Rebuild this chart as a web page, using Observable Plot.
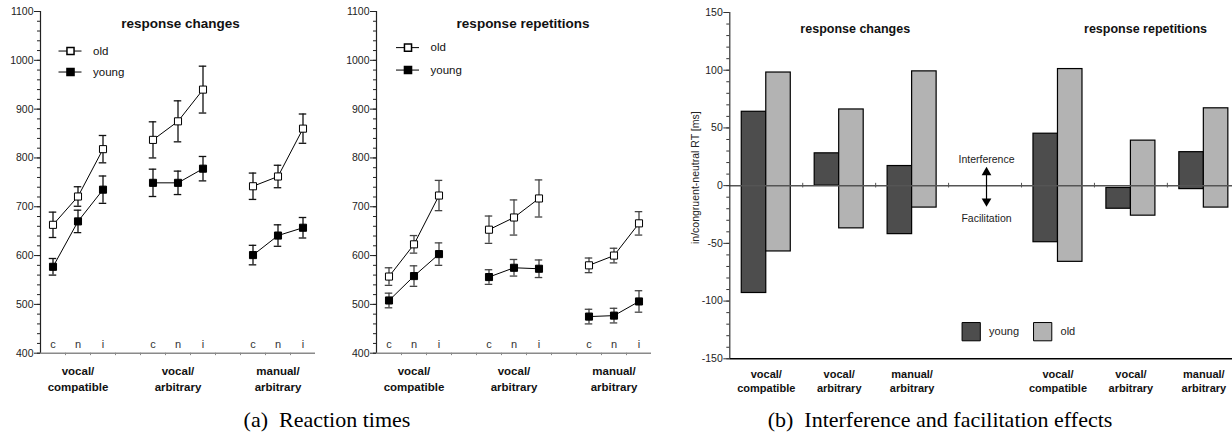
<!DOCTYPE html>
<html>
<head>
<meta charset="utf-8">
<script src="https://cdn.jsdelivr.net/npm/d3@7"></script>
<script src="https://cdn.jsdelivr.net/npm/@observablehq/plot@0.6"></script>
<style>
  html, body { margin: 0; padding: 0; background: #fff; }
  #root { position: relative; width: 1232px; height: 434px; overflow: hidden; font-family: "Liberation Sans", Arial, sans-serif; }
  .panel { position: absolute; top: 0; }
  .panel svg { overflow: visible; }
  .cap { position: absolute; font-family: "Liberation Serif", "Times New Roman", serif; font-size: 22px; line-height: 22px; text-align: center; color: #000; white-space: pre; }
</style>
</head>
<body>
<div id="root">
  <div class="panel" id="p1" style="left:0px"></div>
  <div class="panel" id="p2" style="left:336px"></div>
  <div class="panel" id="p3" style="left:640px"></div>
  <div class="cap" id="capA" style="left:177px; width:300px; top:409px;">(a)  Reaction times</div>
  <div class="cap" id="capB" style="left:740px; width:400px; top:409px;">(b)  Interference and facilitation effects</div>
</div>
<script>
// ---------- data ----------
const conditions = ["c", "n", "i"];
const tasks = ["vocal/\ncompatible", "vocal/\narbitrary", "manual/\narbitrary"];
const ageGroups = ["old", "young"];
const panelTitles = ["response changes", "response repetitions"];

// reaction times (ms), order: task x condition (c, n, i)
const changesOld      = [663, 721, 818,  837, 875, 940,  742, 762, 860];
const changesOldErr   = [ 26,  20,  28,   37,  42,  48,   27,  23,  30];
const changesYoung    = [577, 670, 735,  749, 749, 778,  601, 641, 657];
const changesYoungErr = [ 17,  23,  28,   28,  24,  25,   20,  22,  21];

const repsOld         = [557, 623, 723,  653, 678, 717,  580, 600, 666];
const repsOldErr      = [ 18,  18,  31,   28,  36,  38,   15,  15,  24];
const repsYoung       = [508, 558, 603,  556, 575, 573,  475, 477, 506];
const repsYoungErr    = [ 15,  21,  23,   15,  17,  18,   15,  15,  22];

// effects (ms): interference (i - n) and facilitation (c - n)
// order: changes (3 tasks), repetitions (3 tasks)
const interferenceYoung = [64, 28, 17,  45, -2, 29];
const facilitationYoung = [-93, 0, -42, -49, -20, -3];
const interferenceOld   = [98, 66, 99, 101, 39, 67];
const facilitationOld   = [-57, -37, -19, -66, -26, -19];

const rtTicks = d3.range(400, 1101, 100);
const effTicks = d3.range(-150, 151, 50);

const FONT = "Liberation Sans, Arial, Helvetica, sans-serif";

// ---------- reaction-time panel ----------
function rtPanel(opts) {
  const {title, oldV, oldE, youngV, youngE, errColor, titleX, legendX, legendY} = opts;
  const rows = [];
  [["old", oldV, oldE], ["young", youngV, youngE]].forEach(([s, v, e]) => {
    v.forEach((y, k) => {
      const g = Math.floor(k / 3), c = k % 3;
      rows.push({s, g, c, x: g * 4 + c + 0.5, y, e: e[k], line: s + g});
    });
  });
  const letters = [];
  tasks.forEach((t, g) => conditions.forEach((c, ci) => letters.push({x: g * 4 + ci + 0.5, text: c})));
  const legend = ageGroups.map((s, i) => ({s, y: legendY[i]}));
  const capW = 0.15;
  return Plot.plot({
    width: 330, height: 400,
    marginLeft: 40, marginRight: 15, marginTop: 11, marginBottom: 47.3,
    x: {domain: [0, 11], axis: null},
    y: {domain: [400, 1100], axis: null},
    style: {fontFamily: FONT, fontSize: "10.5px", color: "#111", background: "transparent", overflow: "visible"},
    marks: [
      Plot.ruleY([400], {stroke: "#8a8a8a", strokeWidth: 1.6}),
      Plot.ruleX(d3.range(1, 11), {y1: 400, y2: 395, stroke: "#8a8a8a"}),
      Plot.ruleX([0], {y1: 400, y2: 1100, stroke: "#222", strokeWidth: 1.2}),
      Plot.axisY({ticks: d3.range(400, 1101, 20), tickSize: 3, tickFormat: () => "", label: null, stroke: "#222"}),
      Plot.axisY({ticks: rtTicks, tickSize: 6, tickPadding: 1, tickFormat: d => String(d), label: null, stroke: "#222", fill: "#222"}),
      Plot.text(letters, {x: "x", y: 400, dy: -9, text: "text", fill: "#333", fontSize: 11}),
      Plot.text(tasks, {x: (d, i) => i * 4 + 1.5, y: 400, dy: 25, text: d => d, fontWeight: "bold", fontSize: 11.5, lineHeight: 1.38, fill: "#111"}),
      Plot.text([title], {x: titleX, y: 1076, text: d => d, fontWeight: "bold", fontSize: 13.5, fill: "#111"}),
      // error bars
      Plot.ruleX(rows, {x: "x", y1: d => d.y - d.e, y2: d => d.y + d.e, stroke: errColor, strokeWidth: 1.3}),
      Plot.ruleY(rows, {y: d => d.y + d.e, x1: d => d.x - capW, x2: d => d.x + capW, stroke: errColor, strokeWidth: 1.3}),
      Plot.ruleY(rows, {y: d => d.y - d.e, x1: d => d.x - capW, x2: d => d.x + capW, stroke: errColor, strokeWidth: 1.3}),
      // lines and markers
      Plot.line(rows, {x: "x", y: "y", z: "line", stroke: "#000", strokeWidth: 1}),
      Plot.dot(rows.filter(d => d.s === "old"), {x: "x", y: "y", symbol: "square", r: 4, fill: "white", stroke: "black", strokeWidth: 1}),
      Plot.dot(rows.filter(d => d.s === "young"), {x: "x", y: "y", symbol: "square", r: 4, fill: "black", stroke: "black", strokeWidth: 1}),
      // legend
      Plot.ruleY(legend, {y: "y", x1: legendX - 0.46, x2: legendX + 0.46, stroke: "#000"}),
      Plot.dot(legend.filter(d => d.s === "old"), {x: legendX, y: "y", symbol: "square", r: 4, fill: "white", stroke: "black"}),
      Plot.dot(legend.filter(d => d.s === "young"), {x: legendX, y: "y", symbol: "square", r: 4, fill: "black", stroke: "black"}),
      Plot.text(legend, {x: legendX + 0.9, y: "y", text: "s", textAnchor: "start", fontSize: 11.5, fill: "#111"})
    ]
  });
}

document.getElementById("p1").appendChild(rtPanel({
  title: panelTitles[0], oldV: changesOld, oldE: changesOldErr, youngV: changesYoung, youngE: changesYoungErr,
  errColor: "#111", titleX: 5.6, legendX: 1.2, legendY: [1019, 976]
}));
document.getElementById("p2").appendChild(rtPanel({
  title: panelTitles[1], oldV: repsOld, oldE: repsOldErr, youngV: repsYoung, youngE: repsYoungErr,
  errColor: "#444", titleX: 5.86, legendX: 1.26, legendY: [1026, 980]
}));

// ---------- effects panel ----------
(function () {
  const slot = [0.5, 1.5, 2.5, 4.5, 5.5, 6.5];
  const half = 0.336;
  const bars = [];
  slot.forEach((x, i) => {
    bars.push({s: "young", x1: x - half, x2: x, y1: facilitationYoung[i], y2: interferenceYoung[i]});
    bars.push({s: "old", x1: x, x2: x + half, y1: facilitationOld[i], y2: interferenceOld[i]});
  });
  const catLabels = slot.map((x, i) => ({x, text: tasks[i % 3]}));
  const legend = [{s: "young", x: 3.31, fill: "#4d4d4d"}, {s: "old", x: 4.29, fill: "#b3b3b3"}];
  const plot = Plot.plot({
    width: 592, height: 400,
    marginLeft: 89.3, marginRight: 0, marginTop: 12, marginBottom: 41.7,
    x: {domain: [0, 6.893], axis: null},
    y: {domain: [-150, 150], axis: null},
    style: {fontFamily: FONT, fontSize: "10.5px", color: "#111", background: "transparent", overflow: "visible"},
    marks: [
      Plot.rect(bars.filter(d => d.s === "young"), {x1: "x1", x2: "x2", y1: "y1", y2: "y2", fill: "#4d4d4d", stroke: "#000", strokeWidth: 1.2}),
      Plot.rect(bars.filter(d => d.s === "old"), {x1: "x1", x2: "x2", y1: "y1", y2: "y2", fill: "#b3b3b3", stroke: "#000", strokeWidth: 1.2}),
      Plot.ruleY([0], {stroke: "#555", strokeWidth: 1.5}),
      Plot.ruleX(d3.range(1, 7), {y1: -2, y2: 2, stroke: "#555"}),
      Plot.ruleY([-150], {stroke: "#000", strokeWidth: 1.5}),
      Plot.ruleX([0], {y1: -150, y2: 150, stroke: "#333", strokeWidth: 1.2}),
      Plot.axisY({ticks: d3.range(-150, 151, 10), tickSize: 3, tickFormat: () => "", label: null, stroke: "#333"}),
      Plot.axisY({ticks: effTicks, tickSize: 6, tickPadding: 1, tickFormat: d => String(d), label: null, stroke: "#333", fill: "#222", fontSize: 10.5}),
      Plot.text(["in/congruent-neutral RT [ms]"], {frameAnchor: "left", textAnchor: "middle", dx: -34, dy: -8, rotate: -90, text: d => d, fontSize: 10.5, fill: "#222"}),
      Plot.text(panelTitles, {x: (d, i) => i === 0 ? 1.72 : 5.70, y: 136, text: d => d, fontWeight: "bold", fontSize: 12.5, fill: "#111"}),
      Plot.text(catLabels, {x: "x", y: -150, dy: 21.5, text: "text", fontWeight: "bold", fontSize: 11, lineHeight: 1.35, fill: "#111"}),
      // interference / facilitation annotation
      Plot.ruleX([3.52], {y1: -13.5, y2: 11.5, stroke: "#000", strokeWidth: 1.2}),
      Plot.dot([11.5], {x: 3.52, y: d => d, symbol: "triangle", r: 3.6, fill: "#000"}),
      Plot.dot([-13.5], {x: 3.52, y: d => d, symbol: "triangle", r: 3.6, fill: "#000", rotate: 180}),
      Plot.text(["Interference"], {x: 3.52, y: 22.5, text: d => d, fontSize: 10.5, fill: "#222"}),
      Plot.text(["Facilitation"], {x: 3.52, y: -28.5, text: d => d, fontSize: 10.5, fill: "#222"}),
      // legend
      Plot.dot(legend, {x: "x", y: -126.5, symbol: "square", r: 10.3, fill: "fill", stroke: "#000", strokeWidth: 1}),
      Plot.text(legend, {x: d => d.x + 0.245, y: -126.5, text: "s", textAnchor: "start", fontSize: 11, fill: "#222"})
    ]
  });
  document.getElementById("p3").appendChild(plot);
})();
</script>
</body>
</html>
